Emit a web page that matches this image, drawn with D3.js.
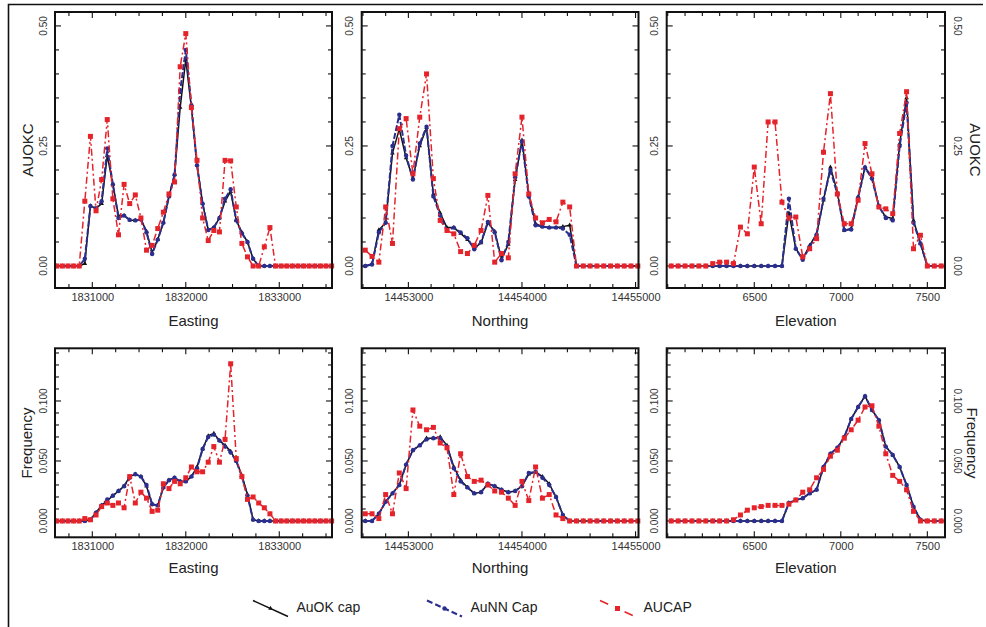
<!DOCTYPE html>
<html><head><meta charset="utf-8">
<script src="https://cdn.jsdelivr.net/npm/d3@7"></script>
<style>
body{margin:0;background:#fff;}
svg{display:block;font-family:"Liberation Sans",Arial,Helvetica,sans-serif;}
</style></head><body>
<svg id="c" width="986" height="627"></svg>
<script>
// ---------------- DATA ----------------
const eastingX = [1830620,1830680,1830740,1830800,1830860,1830920,1830980,1831040,1831100,1831160,1831220,1831280,1831340,1831400,1831460,1831520,1831580,1831640,1831700,1831760,1831820,1831880,1831940,1832000,1832060,1832120,1832180,1832240,1832300,1832360,1832420,1832480,1832540,1832600,1832660,1832720,1832780,1832840,1832900,1832960,1833020,1833080,1833140,1833200,1833260,1833320,1833380,1833440,1833500,1833560];
const northingX = [14452620,14452680,14452740,14452800,14452860,14452920,14452980,14453040,14453100,14453160,14453220,14453280,14453340,14453400,14453460,14453520,14453580,14453640,14453700,14453760,14453820,14453880,14453940,14454000,14454060,14454120,14454180,14454240,14454300,14454360,14454420,14454480,14454540,14454600,14454660,14454720,14454780,14454840,14454900,14454960,14455020];
const elevationX = [6020,6060,6100,6140,6180,6220,6260,6300,6340,6380,6420,6460,6500,6540,6580,6620,6660,6700,6740,6780,6820,6860,6900,6940,6980,7020,7060,7100,7140,7180,7220,7260,7300,7340,7380,7420,7460,7500,7540,7580];

// AUOKC vs Easting
const okEastAUOKC = [0,0,0,0,0,0.005,0.125,0.12,0.13,0.23,0.17,0.105,0.105,0.096,0.095,0.097,0.072,0.028,0.055,0.09,0.145,0.19,0.33,0.43,0.33,0.21,0.13,0.075,0.08,0.1,0.135,0.155,0.095,0.07,0.05,0.015,0,0,0,0,0,0,0,0,0,0,0,0,0,0];
const nnEastAUOKC = [0,0,0,0,0,0.015,0.125,0.12,0.135,0.245,0.17,0.1,0.105,0.096,0.095,0.097,0.07,0.025,0.055,0.09,0.145,0.19,0.365,0.45,0.335,0.21,0.13,0.075,0.08,0.1,0.14,0.16,0.095,0.068,0.05,0.015,0,0,0,0,0,0,0,0,0,0,0,0,0,0];
const capEastAUOKC = [0,0,0,0,0,0.135,0.27,0.115,0.18,0.305,0.14,0.065,0.17,0.13,0.148,0.1,0.033,0.043,0.078,0.112,0.15,0.175,0.415,0.484,0.33,0.22,0.1,0.053,0.074,0.071,0.22,0.219,0.123,0.047,0.019,0,0,0.04,0.08,0,0,0,0,0,0,0,0,0,0,0];

// AUOKC vs Northing
const okNorthAUOKC = [0,0.005,0.075,0.09,0.235,0.285,0.225,0.183,0.25,0.288,0.15,0.11,0.08,0.08,0.068,0.055,0.037,0.048,0.09,0.072,0.015,0.045,0.18,0.262,0.15,0.088,0.082,0.08,0.08,0.082,0.085,0,0,0,0,0,0,0,0,0,0];
const nnNorthAUOKC = [0,0.003,0.07,0.09,0.25,0.315,0.23,0.18,0.255,0.29,0.145,0.105,0.075,0.08,0.07,0.058,0.035,0.05,0.092,0.07,0.012,0.05,0.185,0.26,0.145,0.085,0.082,0.08,0.08,0.078,0.065,0,0,0,0,0,0,0,0,0,0];
const capNorthAUOKC = [0.033,0.02,0.008,0.123,0.047,0.286,0.307,0.192,0.31,0.4,0.182,0.095,0.074,0.067,0.03,0.026,0.043,0.074,0.147,0.008,0.026,0.017,0.192,0.31,0.15,0.1,0.09,0.097,0.092,0.133,0.123,0,0,0,0,0,0,0,0,0,0];

// AUOKC vs Elevation
const okElevAUOKC = [0,0,0,0,0,0,0,0,0,0,0,0,0,0,0,0,0,0.11,0.036,0.015,0.043,0.067,0.137,0.206,0.154,0.074,0.078,0.144,0.206,0.185,0.123,0.102,0.099,0.255,0.35,0.095,0.047,0,0,0];
const nnElevAUOKC = [0,0,0,0,0,0,0,0,0,0,0,0,0,0,0,0,0,0.14,0.036,0.013,0.04,0.065,0.14,0.2,0.15,0.075,0.076,0.142,0.205,0.182,0.125,0.1,0.095,0.25,0.34,0.09,0.047,0,0,0];
const capElevAUOKC = [0,0,0,0,0,0,0.005,0.008,0.008,0.005,0.081,0.067,0.206,0.088,0.3,0.3,0.133,0.1,0.102,0.019,0.036,0.057,0.237,0.359,0.15,0.088,0.088,0.137,0.255,0.192,0.123,0.119,0.109,0.276,0.363,0.036,0.064,0,0,0];

// Frequency vs Easting
const okEastFreq = [0,0,0,0,0,0,0.001,0.007,0.013,0.017,0.021,0.025,0.029,0.037,0.039,0.037,0.029,0.014,0.013,0.028,0.034,0.036,0.033,0.033,0.037,0.045,0.06,0.071,0.073,0.067,0.063,0.058,0.05,0.038,0.022,0.001,0,0,0,0,0,0,0,0,0,0,0,0,0,0];
const nnEastFreq = [0,0,0,0,0,0,0.001,0.007,0.013,0.018,0.021,0.025,0.029,0.036,0.039,0.037,0.03,0.014,0.013,0.028,0.034,0.036,0.033,0.033,0.037,0.044,0.06,0.07,0.072,0.067,0.062,0.057,0.05,0.037,0.021,0.001,0,0,0,0,0,0,0,0,0,0,0,0,0,0];
const capEastFreq = [0,0,0,0,0,0.002,0.001,0.005,0.012,0.015,0.013,0.015,0.011,0.037,0.015,0.024,0.019,0.008,0.009,0.031,0.027,0.033,0.031,0.036,0.045,0.041,0.041,0.049,0.062,0.049,0.068,0.131,0.052,0.037,0.018,0.02,0.015,0.011,0.006,0,0,0,0,0,0,0,0,0,0,0];

// Frequency vs Northing
const okNorthFreq = [0,0,0.006,0.016,0.023,0.03,0.047,0.059,0.063,0.069,0.069,0.07,0.063,0.045,0.034,0.028,0.023,0.024,0.031,0.029,0.026,0.024,0.025,0.029,0.039,0.041,0.037,0.031,0.02,0.005,0,0,0,0,0,0,0,0,0,0,0];
const nnNorthFreq = [0,0,0.006,0.016,0.023,0.03,0.047,0.059,0.063,0.068,0.069,0.069,0.062,0.044,0.033,0.028,0.023,0.024,0.031,0.029,0.026,0.024,0.025,0.029,0.04,0.041,0.036,0.03,0.02,0.005,0,0,0,0,0,0,0,0,0,0,0];
const capNorthFreq = [0.006,0.006,0.002,0.022,0.006,0.04,0.027,0.0925,0.079,0.076,0.078,0.065,0.061,0.022,0.056,0.037,0.033,0.034,0.03,0.025,0.024,0.019,0.013,0.033,0.017,0.045,0.019,0.022,0.005,0.002,0,0,0,0,0,0,0,0,0,0,0];

// Frequency vs Elevation
const okElevFreq = [0,0,0,0,0,0,0,0,0,0,0,0,0,0,0,0,0,0.015,0.0175,0.019,0.023,0.026,0.045,0.056,0.061,0.07,0.085,0.095,0.104,0.0925,0.084,0.062,0.055,0.045,0.03,0.012,0.001,0,0,0];
const nnElevFreq = [0,0,0,0,0,0,0,0,0,0,0,0,0,0,0,0,0,0.015,0.0175,0.019,0.023,0.026,0.045,0.056,0.061,0.07,0.085,0.095,0.104,0.0925,0.084,0.062,0.055,0.045,0.03,0.012,0.001,0,0,0];
const capElevFreq = [0,0,0,0,0,0,0,0,0,0.001,0.005,0.009,0.011,0.012,0.013,0.013,0.013,0.014,0.0175,0.024,0.026,0.036,0.043,0.054,0.059,0.069,0.076,0.084,0.095,0.096,0.079,0.056,0.038,0.033,0.026,0.008,0,0,0,0];

const seriesNames = ["AuOK cap","AuNN Cap","AUCAP"];
const xTitles = ["Easting","Northing","Elevation"];
const yTitles = ["AUOKC","Frequency"];
const xMajorTicks = [[1831000,1832000,1833000],[14453000,14454000,14455000],[6500,7000,7500]];
const yMajorTicks = [[0,0.25,0.5],[0,0.05,0.1]];

// ---------------- LAYOUT ----------------
const W = 986, H = 627;
const svg = d3.select("#c");
svg.append("rect").attr("width",W).attr("height",H).attr("fill","#fff");
svg.append("path").attr("d","M8.5,627 V4.5 H983").attr("stroke","#111").attr("stroke-width",1.6).attr("fill","none");

const cols = [{l:55,r:332},{l:361.7,r:638.5},{l:666.7,r:945}];
const rows = [{t:12,b:288},{t:348.3,b:537.3}];
const xDomains = [[1830601,1833564],[14452589,14455026],[5994,7602]];
const xMinorStep = [250,200,100];
const yDomains = [[-0.0458,0.529],[-0.0136,0.1439]];
const yMinorStep = [0.05,0.01];
const yFmt = [d3.format(".2f"), d3.format(".3f")];
const xLabelY = [303.5,552];
const xTitleY = [321,568];

const xs = [eastingX, northingX, elevationX];
const data = [
  [[okEastAUOKC,nnEastAUOKC,capEastAUOKC],[okNorthAUOKC,nnNorthAUOKC,capNorthAUOKC],[okElevAUOKC,nnElevAUOKC,capElevAUOKC]],
  [[okEastFreq,nnEastFreq,capEastFreq],[okNorthFreq,nnNorthFreq,capNorthFreq],[okElevFreq,nnElevFreq,capElevFreq]]
];

const styles = [
  {stroke:"#111111", width:1.5, dash:null, marker:"tri", fill:"#111"},
  {stroke:"#2a2e8c", width:2, dash:"6,2", marker:"circle", fill:"#2a2e8c"},
  {stroke:"#e5232b", width:1.5, dash:"7,3,2,3", marker:"square", fill:"#e5232b"}
];

function drawMarker(g, st, x, y){
  if(st.marker==="circle"){
    g.append("circle").attr("cx",x).attr("cy",y).attr("r",2.2).attr("fill",st.fill);
  } else if(st.marker==="square"){
    g.append("rect").attr("x",x-2.5).attr("y",y-2.5).attr("width",5).attr("height",5).attr("fill",st.fill);
  } else {
    g.append("path").attr("d",d3.symbol(d3.symbolTriangle,9)()).attr("transform",`translate(${x},${y})`).attr("fill",st.fill);
  }
}

for(let r=0;r<2;r++){
  for(let c=0;c<3;c++){
    const L=cols[c].l, R=cols[c].r, T=rows[r].t, B=rows[r].b;
    const x = d3.scaleLinear().domain(xDomains[c]).range([L,R]);
    const y = d3.scaleLinear().domain(yDomains[r]).range([B,T]);
    const g = svg.append("g");

    const xMinor = d3.range(Math.ceil(xDomains[c][0]/xMinorStep[c])*xMinorStep[c], xDomains[c][1], xMinorStep[c]);
    const yMinor = d3.range(0, yDomains[r][1]+1e-9, yMinorStep[r]);
    const tickG = g.append("g").attr("stroke","#111").attr("stroke-width",1.1);
    xMinor.forEach(v=>{
      const major = xMajorTicks[c].some(m=>Math.abs(m-v)<1e-6);
      const len = major?6:4;
      const px = x(v);
      tickG.append("line").attr("x1",px).attr("x2",px).attr("y1",B).attr("y2",B-len);
      tickG.append("line").attr("x1",px).attr("x2",px).attr("y1",T).attr("y2",T+len);
    });
    yMinor.forEach(v=>{
      const major = yMajorTicks[r].some(m=>Math.abs(m-v)<1e-6);
      const len = major?6:4;
      const py = y(v);
      tickG.append("line").attr("x1",L).attr("x2",L+len).attr("y1",py).attr("y2",py);
      tickG.append("line").attr("x1",R).attr("x2",R-len).attr("y1",py).attr("y2",py);
    });

    const xAxis = d3.axisBottom(x).tickValues(xMajorTicks[c]).tickSize(0).tickFormat(d3.format("d"));
    const xa = g.append("g").attr("transform",`translate(0,${xLabelY[r]-6})`).call(xAxis);
    xa.select(".domain").remove();
    xa.selectAll("text").attr("font-size",11).attr("fill","#333").attr("font-family","Liberation Sans, Arial, sans-serif").attr("y",0).attr("dy","0.35em");

    const yl = [L-12];
    if(c===2) yl.push(R+12);
    yl.forEach((lx,idx)=>{
      yMajorTicks[r].forEach(v=>{
        g.append("text").attr("transform",`translate(${lx},${y(v)}) rotate(${idx===0?-90:90})`)
          .attr("text-anchor","middle").attr("dy","0.35em").attr("font-size",10).attr("fill","#333")
          .text(yFmt[r](v));
      });
    });

    const xv = xs[c];
    const ser = data[r][c];
    ser.forEach((vals,si)=>{
      const st = styles[si];
      const pts = xv.map((xx,i)=>[x(xx), y(vals[i])]);
      const line = d3.line();
      const p = g.append("path").attr("d",line(pts)).attr("fill","none")
        .attr("stroke",st.stroke).attr("stroke-width",st.width).attr("stroke-linejoin","round");
      if(st.dash) p.attr("stroke-dasharray",st.dash);
      const mg = g.append("g");
      pts.forEach(pt=>drawMarker(mg, st, pt[0], pt[1]));
    });

    g.append("rect").attr("x",L).attr("y",T).attr("width",R-L).attr("height",B-T)
      .attr("fill","none").attr("stroke","#111").attr("stroke-width",2);

    g.append("text").attr("x",(L+R)/2).attr("y",xTitleY[r]).attr("text-anchor","middle").attr("dy","0.35em")
      .attr("font-size",15).attr("fill","#222").text(xTitles[c]);
  }
}

[[28,150,-90,yTitles[0]],[27,443,-90,yTitles[1]],[975,150,90,yTitles[0]],[972,443,90,yTitles[1]]].forEach(d=>{
  svg.append("text").attr("transform",`translate(${d[0]},${d[1]}) rotate(${d[2]})`)
    .attr("text-anchor","middle").attr("dy","0.35em").attr("font-size",15).attr("fill","#222").text(d[3]);
});

const legX = [253, 427, 600];
const legG = svg.append("g");
seriesNames.forEach((name,i)=>{
  const st = styles[i];
  const x0 = legX[i], y0 = 600.5, x1 = legX[i]+35, y1 = 616.5;
  const p = legG.append("line").attr("x1",x0).attr("y1",y0).attr("x2",x1).attr("y2",y1)
    .attr("stroke",st.stroke).attr("stroke-width",st.width);
  if(st.dash) p.attr("stroke-dasharray", i===2?"9,8,2,8":"6,3");
  drawMarker(legG, st, (x0+x1)/2, (y0+y1)/2);
  legG.append("text").attr("x",x1+8.5).attr("y",607.5).attr("dy","0.35em").attr("font-size",14).attr("fill","#222").text(name);
});
</script>
</body></html>
